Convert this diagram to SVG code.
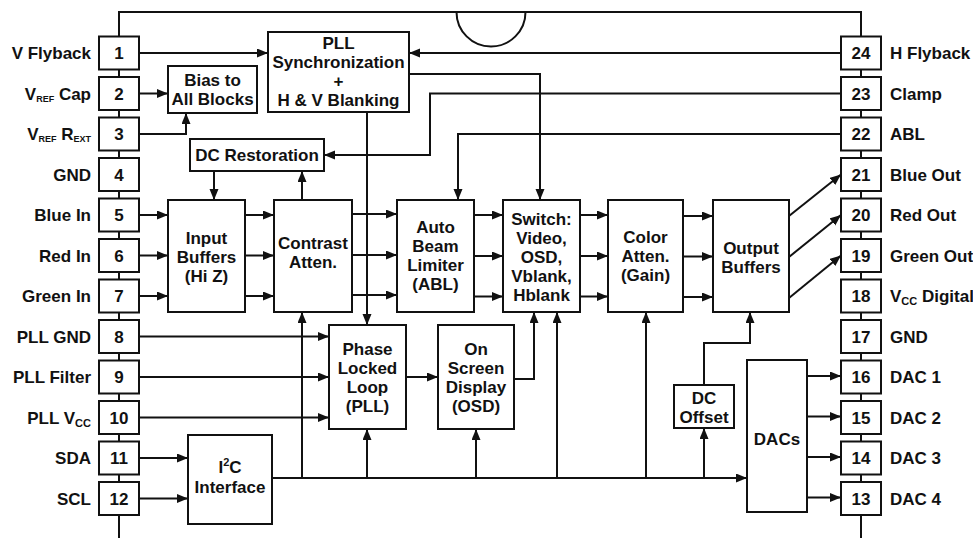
<svg xmlns="http://www.w3.org/2000/svg" width="973" height="538" viewBox="0 0 973 538">
<defs>
<marker id="ah" markerUnits="userSpaceOnUse" markerWidth="12" markerHeight="10" refX="11" refY="4.5" orient="auto">
<path d="M0,0 L11,4.5 L0,9 z" fill="#111"/>
</marker>
<style>
text{font-family:"Liberation Sans",Arial,sans-serif;font-weight:bold;font-size:17px;fill:#111}
.c{text-anchor:middle}
.e{text-anchor:end}
.box{fill:#fff;stroke:#111;stroke-width:2}
.ln{fill:none;stroke:#111;stroke-width:2}
.w{fill:none;stroke:#111;stroke-width:2;marker-end:url(#ah)}
.s{font-size:9px}
.s2{font-size:11px}
</style>
</defs>
<rect width="973" height="538" fill="#fff"/>

<g id="frame">
<path class="ln" d="M119,538 V12 H861 V538"/>
<path class="ln" d="M456.5,12 A34.5,34.5 0 0 0 525.5,12"/>
</g>

<g id="connectors">
<path class="w" d="M139,53 H268"/>
<path class="w" d="M841,53 H409"/>
<path class="w" d="M409,74 H540 V200"/>
<path class="w" d="M841,93.5 H430 V155 H324"/>
<path class="w" d="M841,134 H458 V200"/>
<path class="w" d="M367,112 V325"/>
<path class="w" d="M139,93.5 H168"/>
<path class="w" d="M139,134 H186 V113"/>
<path class="w" d="M214,171 V200"/>
<path class="w" d="M302,200 V171"/>
<path class="w" d="M139,215 H168"/>
<path class="w" d="M139,255.5 H168"/>
<path class="w" d="M139,296 H168"/>
<path class="w" d="M245,215 H274"/>
<path class="w" d="M245,255.5 H274"/>
<path class="w" d="M245,296 H274"/>
<path class="w" d="M352,214 H397"/>
<path class="w" d="M352,255 H397"/>
<path class="w" d="M352,295 H397"/>
<path class="w" d="M474,215 H503"/>
<path class="w" d="M474,256 H503"/>
<path class="w" d="M474,296.5 H503"/>
<path class="w" d="M580,215 H608"/>
<path class="w" d="M580,256 H608"/>
<path class="w" d="M580,296.5 H608"/>
<path class="w" d="M683,216 H713"/>
<path class="w" d="M683,256.5 H713"/>
<path class="w" d="M683,297 H713"/>
<path class="w" d="M789,216 L841,174.5"/>
<path class="w" d="M789,257 L841,215"/>
<path class="w" d="M789,298 L841,255.5"/>
<path class="w" d="M139,336.5 H329"/>
<path class="w" d="M139,377 H329"/>
<path class="w" d="M139,417.5 H329"/>
<path class="w" d="M406,377 H438"/>
<path class="w" d="M514,379 H534 V312"/>
<path class="w" d="M139,458 H188"/>
<path class="w" d="M139,498.5 H188"/>
<path class="w" d="M272,478 H747"/>
<path class="w" d="M302,478 V312"/>
<path class="w" d="M367,478 V429"/>
<path class="w" d="M476,478 V429"/>
<path class="w" d="M557,478 V312"/>
<path class="w" d="M646,478 V312"/>
<path class="w" d="M704,478 V428"/>
<path class="w" d="M704,385 V343 H750 V312"/>
<path class="w" d="M807,376 H841"/>
<path class="w" d="M807,416.5 H841"/>
<path class="w" d="M807,457 H841"/>
<path class="w" d="M807,497.5 H841"/>
</g>

<g id="pin1"><rect class="box" x="99" y="36.5" width="40" height="33"/><text class="c" x="119" y="59">1</text><text class="e" x="91" y="59">V Flyback</text></g>
<g id="pin2"><rect class="box" x="99" y="77" width="40" height="33"/><text class="c" x="119" y="99.5">2</text><text class="e" x="91" y="99.5">V<tspan class="s" dy="2">REF</tspan><tspan dy="-2"> Cap</tspan></text></g>
<g id="pin3"><rect class="box" x="99" y="117.5" width="40" height="33"/><text class="c" x="119" y="140">3</text><text class="e" x="91" y="140">V<tspan class="s" dy="2">REF</tspan><tspan dy="-2"> R</tspan><tspan class="s" dy="2">EXT</tspan></text></g>
<g id="pin4"><rect class="box" x="99" y="158" width="40" height="33"/><text class="c" x="119" y="180.5">4</text><text class="e" x="91" y="180.5">GND</text></g>
<g id="pin5"><rect class="box" x="99" y="198.5" width="40" height="33"/><text class="c" x="119" y="221">5</text><text class="e" x="91" y="221">Blue In</text></g>
<g id="pin6"><rect class="box" x="99" y="239" width="40" height="33"/><text class="c" x="119" y="261.5">6</text><text class="e" x="91" y="261.5">Red In</text></g>
<g id="pin7"><rect class="box" x="99" y="279.5" width="40" height="33"/><text class="c" x="119" y="302">7</text><text class="e" x="91" y="302">Green In</text></g>
<g id="pin8"><rect class="box" x="99" y="320" width="40" height="33"/><text class="c" x="119" y="342.5">8</text><text class="e" x="91" y="342.5">PLL GND</text></g>
<g id="pin9"><rect class="box" x="99" y="360.5" width="40" height="33"/><text class="c" x="119" y="383">9</text><text class="e" x="91" y="383">PLL Filter</text></g>
<g id="pin10"><rect class="box" x="99" y="401" width="40" height="33"/><text class="c" x="119" y="423.5">10</text><text class="e" x="91" y="423.5">PLL V<tspan class="s2" dy="3">CC</tspan></text></g>
<g id="pin11"><rect class="box" x="99" y="441.5" width="40" height="33"/><text class="c" x="119" y="464">11</text><text class="e" x="91" y="464">SDA</text></g>
<g id="pin12"><rect class="box" x="99" y="482" width="40" height="33"/><text class="c" x="119" y="504.5">12</text><text class="e" x="91" y="504.5">SCL</text></g>

<g id="pin24"><rect class="box" x="841" y="36.5" width="40" height="33"/><text class="c" x="861" y="59">24</text><text x="890" y="59">H Flyback</text></g>
<g id="pin23"><rect class="box" x="841" y="77" width="40" height="33"/><text class="c" x="861" y="99.5">23</text><text x="890" y="99.5">Clamp</text></g>
<g id="pin22"><rect class="box" x="841" y="117.5" width="40" height="33"/><text class="c" x="861" y="140">22</text><text x="890" y="140">ABL</text></g>
<g id="pin21"><rect class="box" x="841" y="158" width="40" height="33"/><text class="c" x="861" y="180.5">21</text><text x="890" y="180.5">Blue Out</text></g>
<g id="pin20"><rect class="box" x="841" y="198.5" width="40" height="33"/><text class="c" x="861" y="221">20</text><text x="890" y="221">Red Out</text></g>
<g id="pin19"><rect class="box" x="841" y="239" width="40" height="33"/><text class="c" x="861" y="261.5">19</text><text x="890" y="261.5">Green Out</text></g>
<g id="pin18"><rect class="box" x="841" y="279.5" width="40" height="33"/><text class="c" x="861" y="302">18</text><text x="890" y="302">V<tspan class="s2" dy="3">CC</tspan><tspan dy="-3"> Digital</tspan></text></g>
<g id="pin17"><rect class="box" x="841" y="320" width="40" height="33"/><text class="c" x="861" y="342.5">17</text><text x="890" y="342.5">GND</text></g>
<g id="pin16"><rect class="box" x="841" y="360.5" width="40" height="33"/><text class="c" x="861" y="383">16</text><text x="890" y="383">DAC 1</text></g>
<g id="pin15"><rect class="box" x="841" y="401" width="40" height="33"/><text class="c" x="861" y="423.5">15</text><text x="890" y="423.5">DAC 2</text></g>
<g id="pin14"><rect class="box" x="841" y="441.5" width="40" height="33"/><text class="c" x="861" y="464">14</text><text x="890" y="464">DAC 3</text></g>
<g id="pin13"><rect class="box" x="841" y="482" width="40" height="33"/><text class="c" x="861" y="504.5">13</text><text x="890" y="504.5">DAC 4</text></g>

<g id="pll_sync"><rect class="box" x="268" y="32" width="141" height="80"/>
<text class="c" x="338.5" y="49">PLL</text><text class="c" x="338.5" y="68">Synchronization</text><text class="c" x="338.5" y="87">+</text><text class="c" x="338.5" y="106">H &amp; V Blanking</text></g>
<g id="bias"><rect class="box" x="168" y="66" width="89" height="47"/>
<text class="c" x="212.5" y="86">Bias to</text><text class="c" x="212.5" y="105">All Blocks</text></g>
<g id="dc_restoration"><rect class="box" x="190" y="139" width="134" height="32"/>
<text class="c" x="257" y="161">DC Restoration</text></g>
<g id="input_buffers"><rect class="box" x="168" y="200" width="77" height="112"/>
<text class="c" x="206.5" y="244">Input</text><text class="c" x="206.5" y="263">Buffers</text><text class="c" x="206.5" y="282">(Hi Z)</text></g>
<g id="contrast"><rect class="box" x="274" y="200" width="78" height="112"/>
<text class="c" x="313" y="249">Contrast</text><text class="c" x="313" y="268">Atten.</text></g>
<g id="abl"><rect class="box" x="397" y="200" width="77" height="112"/>
<text class="c" x="435.5" y="233">Auto</text><text class="c" x="435.5" y="252">Beam</text><text class="c" x="435.5" y="271">Limiter</text><text class="c" x="435.5" y="290">(ABL)</text></g>
<g id="switch"><rect class="box" x="503" y="200" width="77" height="112"/>
<text class="c" x="541.5" y="225">Switch:</text><text class="c" x="541.5" y="244">Video,</text><text class="c" x="541.5" y="263">OSD,</text><text class="c" x="541.5" y="282">Vblank,</text><text class="c" x="541.5" y="301">Hblank</text></g>
<g id="color_atten"><rect class="box" x="608" y="200" width="75" height="112"/>
<text class="c" x="645.5" y="243">Color</text><text class="c" x="645.5" y="262">Atten.</text><text class="c" x="645.5" y="281">(Gain)</text></g>
<g id="output_buffers"><rect class="box" x="713" y="200" width="76" height="112"/>
<text class="c" x="751" y="254">Output</text><text class="c" x="751" y="273">Buffers</text></g>
<g id="pll"><rect class="box" x="329" y="325" width="77" height="104"/>
<text class="c" x="367.5" y="355">Phase</text><text class="c" x="367.5" y="374">Locked</text><text class="c" x="367.5" y="393">Loop</text><text class="c" x="367.5" y="412">(PLL)</text></g>
<g id="osd"><rect class="box" x="438" y="325" width="76" height="104"/>
<text class="c" x="476" y="355">On</text><text class="c" x="476" y="374">Screen</text><text class="c" x="476" y="393">Display</text><text class="c" x="476" y="412">(OSD)</text></g>
<g id="i2c"><rect class="box" x="188" y="435" width="84" height="89"/>
<text class="c" x="230" y="473">I<tspan class="s2" dy="-7">2</tspan><tspan dy="7">C</tspan></text><text class="c" x="230" y="493">Interface</text></g>
<g id="dc_offset"><rect class="box" x="674" y="385" width="60" height="43"/>
<text class="c" x="704" y="404">DC</text><text class="c" x="704" y="423">Offset</text></g>
<g id="dacs"><rect class="box" x="747" y="360" width="60" height="152"/>
<text class="c" x="777" y="445">DACs</text></g>
</svg>
